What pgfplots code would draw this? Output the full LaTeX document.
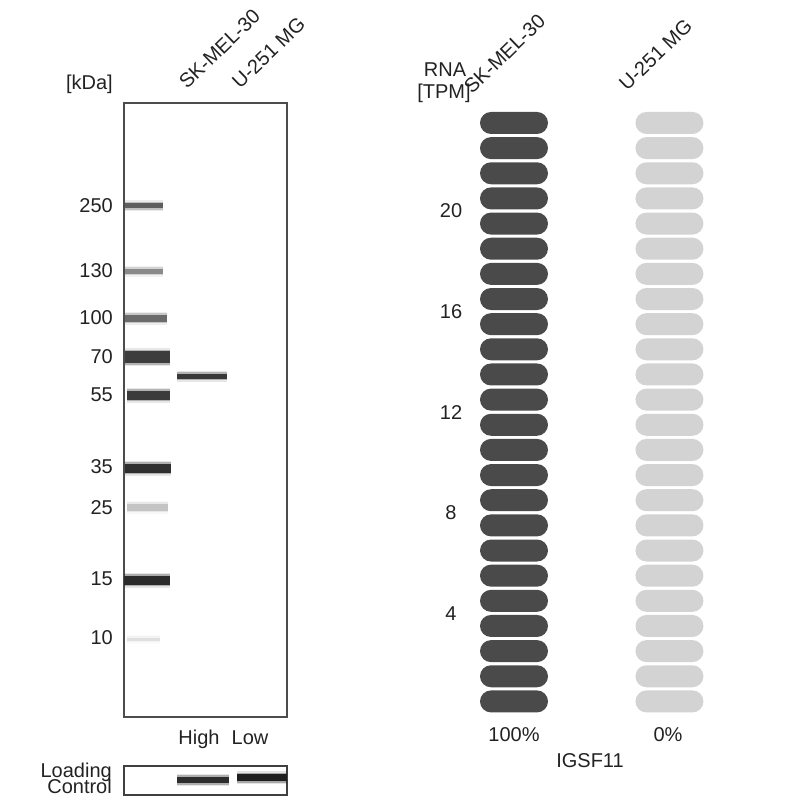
\documentclass[border=0pt]{standalone}
\usepackage{pgfplots}
\pgfplotsset{compat=1.18}
\usepackage{fontspec}
\setmainfont{Liberation Sans}
\definecolor{txt}{HTML}{222222}
\definecolor{darkcap}{HTML}{4A4A4A}
\definecolor{lightcap}{HTML}{D3D3D3}
\pgfdeclareplotmark{capsule}{%
  \pgfpathmoveto{\pgfqpoint{-23pt}{-11pt}}%
  \pgfpathlineto{\pgfqpoint{23pt}{-11pt}}%
  \pgfpatharc{-90}{90}{11pt}%
  \pgfpathlineto{\pgfqpoint{-23pt}{11pt}}%
  \pgfpatharc{90}{270}{11pt}%
  \pgfpathclose
  \pgfusepathqfill}
\newcommand{\band}[5]{%
  \addplot[draw=#5, line width=#4pt+6pt, opacity=0.12, forget plot] coordinates {(#1,#3) (#2,#3)};
  \addplot[draw=#5, line width=#4pt+3pt, opacity=0.3, forget plot] coordinates {(#1,#3) (#2,#3)};
  \addplot[draw=#5, line width=#4pt, forget plot] coordinates {(#1,#3) (#2,#3)};
}
\begin{document}
\fontsize{20pt}{24pt}\selectfont
\begin{tikzpicture}[x=1pt,y=1pt, font=\fontsize{20pt}{24pt}\selectfont, text=txt]
\path[use as bounding box] (0,0) rectangle (800,800);
% Western blot
\begin{axis}[at={(124pt,83pt)}, anchor=south west, scale only axis,
  width=163pt, height=614pt, xmin=124, xmax=287, ymin=103, ymax=717, y dir=reverse,
  axis line style={draw=black!70, line width=1.5pt},
  xtick=\empty, ytick={206,271,318,357,395,467,508,579,638},
  yticklabels={250,130,100,70,55,35,25,15,10},
  major tick length=0pt, /pgf/number format/assume math mode=true,
  yticklabel style={anchor=east, inner sep=0pt, xshift=-11pt, text=txt}]
\band{125}{163}{206}{5}{black!63}
\band{125}{163}{271}{5}{black!46}
\band{125}{167}{318}{7}{black!58}
\band{125}{170}{357}{12}{black!76}
\band{127}{170}{395}{9}{black!77}
\band{125}{171}{468}{9}{black!81}
\band{127}{168}{507}{7}{black!23}
\band{124}{170}{580}{9}{black!83}
\band{127}{160}{639}{3}{black!12}
\band{177}{227}{376}{5}{black!78}
\end{axis}
% Loading control
\begin{axis}[at={(124pt,5pt)}, anchor=south west, scale only axis,
  width=163pt, height=29pt, xmin=124, xmax=287, ymin=766, ymax=795, y dir=reverse,
  axis line style={draw=black!75, line width=1.5pt},
  xtick=\empty, ytick=\empty]
\band{177}{229}{780}{6}{black!82}
\band{237}{287}{778}{7}{black!88}
\end{axis}
% RNA capsules
\begin{axis}[at={(470pt,86pt)}, anchor=south west, scale only axis,
  width=245pt, height=603.6pt, xmin=-0.283, xmax=1.293, ymin=0, ymax=24,
  axis line style={draw=none}, xtick=\empty, ytick={4,8,12,16,20},
  major tick length=0pt, /pgf/number format/assume math mode=true,
  yticklabel style={anchor=center, xshift=-19pt, text=txt}, clip=false]
\addplot[only marks, mark=capsule, color=darkcap, fill=darkcap, draw=none] coordinates {
(0,0.5) (0,1.5) (0,2.5) (0,3.5) (0,4.5) (0,5.5) (0,6.5) (0,7.5) (0,8.5) (0,9.5) (0,10.5) (0,11.5)
(0,12.5) (0,13.5) (0,14.5) (0,15.5) (0,16.5) (0,17.5) (0,18.5) (0,19.5) (0,20.5) (0,21.5) (0,22.5) (0,23.5)};
\addplot[only marks, mark=capsule, color=lightcap, fill=lightcap, draw=none] coordinates {
(1,0.5) (1,1.5) (1,2.5) (1,3.5) (1,4.5) (1,5.5) (1,6.5) (1,7.5) (1,8.5) (1,9.5) (1,10.5) (1,11.5)
(1,12.5) (1,13.5) (1,14.5) (1,15.5) (1,16.5) (1,17.5) (1,18.5) (1,19.5) (1,20.5) (1,21.5) (1,22.5) (1,23.5)};
\end{axis}
% Texts
\node[anchor=east, inner sep=0pt] at (113,716) {[kDa]};
\node[rotate=44, anchor=base west, inner sep=0pt] at (187,710) {SK-MEL-30};
\node[rotate=44, anchor=base west, inner sep=0pt] at (240,710) {U-251 MG};
\node[anchor=base, inner sep=0pt] at (199,55) {High};
\node[anchor=base, inner sep=0pt] at (250,55) {Low};
\node[anchor=base east, inner sep=0pt] at (112,23) {Loading};
\node[anchor=base east, inner sep=0pt] at (112,6) {Control};
\node[anchor=base, inner sep=0pt] at (445,723) {RNA};
\node[anchor=base, inner sep=0pt] at (444,701) {[TPM]};
\node[rotate=44, anchor=base west, inner sep=0pt] at (472,705) {SK-MEL-30};
\node[rotate=44, anchor=base west, inner sep=0pt] at (627,708) {U-251 MG};
\node[anchor=base, inner sep=0pt] at (514,58) {100\%};
\node[anchor=base, inner sep=0pt] at (668,58) {0\%};
\node[anchor=base, inner sep=0pt] at (590,32) {IGSF11};
\end{tikzpicture}
\end{document}
